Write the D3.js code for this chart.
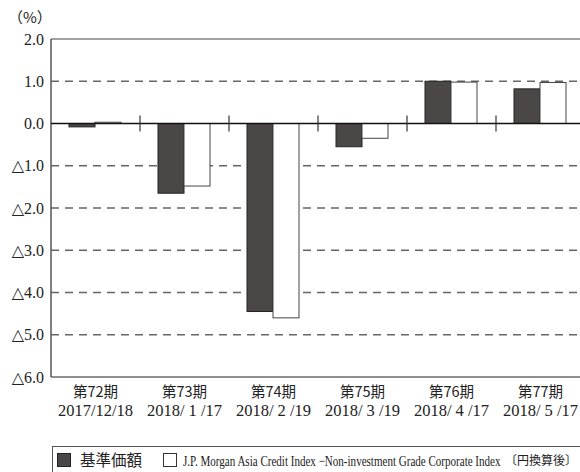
<!DOCTYPE html>
<html>
<head>
<meta charset="utf-8">
<script src="https://cdn.jsdelivr.net/npm/d3@7"></script>
<style>
  body { margin: 0; background: #fff; }
  text { font-family: "Liberation Serif", "DejaVu Serif", serif; fill: #222; }
  .jp { font-family: "Noto Sans CJK JP", sans-serif; }
</style>
</head>
<body>
<svg id="chart" width="580" height="472"></svg>
<script>
// data
var periods = ["第72期", "第73期", "第74期", "第75期", "第76期", "第77期"];
var dates = ["2017/12/18", "2018/ 1 /17", "2018/ 2 /19", "2018/ 3 /19", "2018/ 4 /17", "2018/ 5 /17"];
var fundVals = [-0.08, -1.65, -4.45, -0.55, 1.0, 0.82];
var indexVals = [0.03, -1.48, -4.6, -0.35, 0.98, 0.97];
var yTicks = [2, 1, 0, -1, -2, -3, -4, -5, -6];

var svg = d3.select("#chart");
var plotLeft = 51, plotRight = 585, plotTop = 39, plotBottom = 377;

var x = d3.scaleBand().domain(d3.range(periods.length)).range([plotLeft, plotRight]);
var y = d3.scaleLinear().domain([-6, 2]).range([plotBottom, plotTop]);
var barW = 26;

function fmt(v) {
    var s = Math.abs(v).toFixed(1);
    return v < 0 ? "△" + s : s;
}

// squeeze a text horizontally to a given width (the legend font is condensed)
function squeeze(sel, px, py, width) {
    var w = sel.node().getComputedTextLength();
    sel.attr("transform", "translate(" + px + "," + py + ") scale(" + (width / w) + ",1)");
}

// dashed grid
svg.append("g").selectAll("line")
    .data(yTicks.filter(function(d) { return d != 0 && d != 2 && d != -6; }))
    .join("line")
    .attr("x1", plotLeft).attr("x2", 580)
    .attr("y1", function(d) { return y(d); }).attr("y2", function(d) { return y(d); })
    .attr("stroke", "#666").attr("stroke-width", 1.3)
    .attr("stroke-dasharray", "8,6");

// top and bottom frame
svg.append("line").attr("x1", plotLeft).attr("x2", 580).attr("y1", y(2)).attr("y2", y(2))
    .attr("stroke", "#444").attr("stroke-width", 1.2);
svg.append("line").attr("x1", plotLeft).attr("x2", 580).attr("y1", y(-6)).attr("y2", y(-6))
    .attr("stroke", "#222").attr("stroke-width", 1.2);
svg.append("line").attr("x1", plotLeft).attr("x2", plotLeft).attr("y1", y(2)).attr("y2", y(-6))
    .attr("stroke", "#555").attr("stroke-width", 1.5);

// y labels
svg.append("g").selectAll("text")
    .data(yTicks)
    .join("text")
    .attr("x", 44)
    .attr("y", function(d) { return y(d) + 5.5; })
    .attr("text-anchor", "end")
    .style("font-size", "16px")
    .text(fmt);

svg.append("text").attr("x", 8).attr("y", 23)
    .attr("class", "jp").style("font-size", "15px").text("（%）");

// bars
var groups = svg.append("g").selectAll("g")
    .data(periods)
    .join("g");

groups.append("rect")
    .attr("x", function(d, i) { return x(i) + 18; })
    .attr("y", function(d, i) { return y(Math.max(0, fundVals[i])); })
    .attr("width", barW)
    .attr("height", function(d, i) { return Math.abs(y(fundVals[i]) - y(0)); })
    .attr("fill", "#4b4746").attr("stroke", "#222").attr("stroke-width", 1);

groups.append("rect")
    .attr("x", function(d, i) { return x(i) + 18 + barW; })
    .attr("y", function(d, i) { return y(Math.max(0, indexVals[i])); })
    .attr("width", barW)
    .attr("height", function(d, i) { return Math.abs(y(indexVals[i]) - y(0)); })
    .attr("fill", "#fff").attr("stroke", "#444").attr("stroke-width", 1);

// zero line
svg.append("line").attr("x1", plotLeft).attr("x2", 580).attr("y1", y(0)).attr("y2", y(0))
    .attr("stroke", "#111").attr("stroke-width", 1.3);

// separators between periods
svg.append("g").selectAll("line")
    .data(d3.range(1, periods.length))
    .join("line")
    .attr("x1", function(i) { return x(i); }).attr("x2", function(i) { return x(i); })
    .attr("y1", y(0) - 8).attr("y2", y(0) + 8)
    .attr("stroke", "#333").attr("stroke-width", 1.2);

// x labels
groups.append("text")
    .attr("class", "jp")
    .attr("x", function(d, i) { return x(i) + x.bandwidth() / 2; })
    .attr("y", 397)
    .attr("text-anchor", "middle")
    .style("font-size", "14.5px")
    .text(function(d) { return d; });

groups.append("text")
    .attr("x", function(d, i) { return x(i) + x.bandwidth() / 2; })
    .attr("y", 416)
    .attr("text-anchor", "middle")
    .style("font-size", "16.5px")
    .text(function(d, i) { return dates[i]; });

// legend
var lg = svg.append("g");
lg.append("rect").attr("x", 52.5).attr("y", 446.5).attr("width", 540).attr("height", 40)
    .attr("fill", "none").attr("stroke", "#555").attr("stroke-width", 1);
lg.append("rect").attr("x", 57.5).attr("y", 453.5).attr("width", 13).attr("height", 13)
    .attr("fill", "#4b4746").attr("stroke", "#222");
lg.append("text").attr("class", "jp").attr("x", 80).attr("y", 466)
    .style("font-size", "15.5px").text("基準価額");
lg.append("rect").attr("x", 163.5).attr("y", 453.5).attr("width", 13).attr("height", 13)
    .attr("fill", "#fff").attr("stroke", "#333");
var lgName = lg.append("text")
    .style("font-size", "15px")
    .text("J.P. Morgan Asia Credit Index −Non-investment Grade Corporate Index");
squeeze(lgName, 183, 466, 318);
var lgNote = lg.append("text").attr("class", "jp")
    .style("font-size", "12px")
    .text("〔円換算後〕");
squeeze(lgNote, 505, 465, 72);
</script>
</body>
</html>
